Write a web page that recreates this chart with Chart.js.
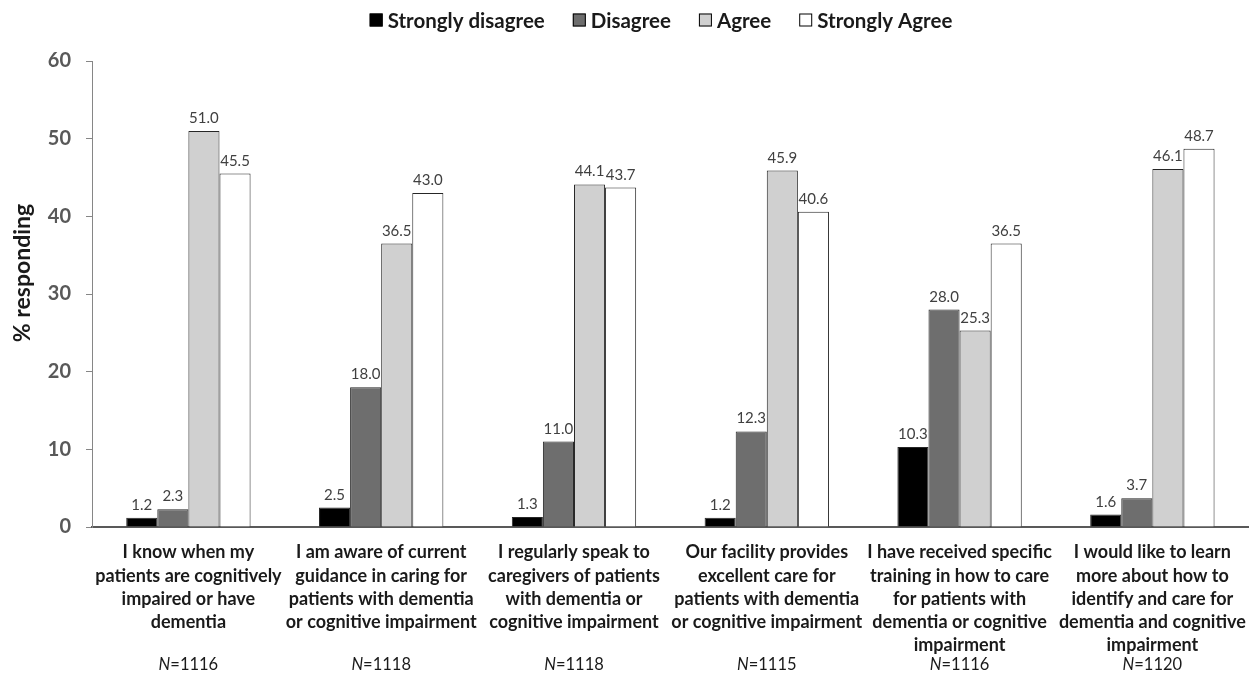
<!DOCTYPE html>
<html>
<head>
<meta charset="utf-8">
<script src="https://cdn.jsdelivr.net/npm/chart.js@4"></script>
<style>
  html, body { margin: 0; padding: 0; background: #ffffff; }
  #wrap { width: 1260px; height: 679px; position: relative; }
</style>
</head>
<body>
<div id="wrap"><canvas id="chart"></canvas></div>
<script>
// Survey statements (wrapped into lines) and respondent counts
const categories = [
  ["I know when my", "patients are cognitively", "impaired or have", "dementia"],
  ["I am aware of current", "guidance in caring for", "patients with dementia", "or cognitive impairment"],
  ["I regularly speak to", "caregivers of patients", "with dementia or", "cognitive impairment"],
  ["Our facility provides", "excellent care for", "patients with dementia", "or cognitive impairment"],
  ["I have received specific", "training in how to care", "for patients with", "dementia or cognitive", "impairment"],
  ["I would like to learn", "more about how to", "identify and care for", "dementia and cognitive", "impairment"]
];
const sampleSizes = [1116, 1118, 1118, 1115, 1116, 1120];

// % responding per answer
const stronglyDisagree = [1.2, 2.5, 1.3, 1.2, 10.3, 1.6];
const disagree         = [2.3, 18.0, 11.0, 12.3, 28.0, 3.7];
const agree            = [51.0, 36.5, 44.1, 45.9, 25.3, 46.1];
const stronglyAgree    = [45.5, 43.0, 43.7, 40.6, 36.5, 48.7];

const yTicks = [0, 10, 20, 30, 40, 50, 60];

const FONT = "Lato, 'Open Sans', sans-serif";

// Value labels above each bar
const valueLabels = {
  id: 'valueLabels',
  afterDatasetsDraw(chart) {
    const ctx = chart.ctx;
    ctx.save();
    ctx.font = "15px " + FONT;
    ctx.fillStyle = '#404040';
    ctx.textAlign = 'center';
    ctx.textBaseline = 'alphabetic';
    chart.data.datasets.forEach((ds, i) => {
      chart.getDatasetMeta(i).data.forEach((bar, j) => {
        ctx.fillText(ds.data[j].toFixed(1), bar.x, bar.y - 8);
      });
    });
    ctx.restore();
  }
};

// "N=…" line under each category, y-axis title and legend row
const annotations = {
  id: 'annotations',
  afterDraw(chart) {
    const ctx = chart.ctx;
    const xs = chart.scales.x;
    ctx.save();

    // sample sizes
    ctx.fillStyle = '#1a1a1a';
    ctx.textBaseline = 'middle';
    ctx.textAlign = 'left';
    const italic = "italic 16.5px " + FONT;
    const regular = "16.5px " + FONT;
    sampleSizes.forEach((n, i) => {
      const cx = xs.getPixelForValue(i);
      ctx.font = italic;
      const w1 = ctx.measureText('N').width;
      ctx.font = regular;
      const rest = '=' + n;
      const w2 = ctx.measureText(rest).width;
      const x0 = cx - (w1 + w2) / 2;
      ctx.font = italic;
      ctx.fillText('N', x0, 665);
      ctx.font = regular;
      ctx.fillText(rest, x0 + w1, 665);
    });

    // y-axis title
    ctx.save();
    ctx.translate(23, 273);
    ctx.rotate(-Math.PI / 2);
    ctx.textAlign = 'center';
    ctx.textBaseline = 'middle';
    ctx.font = "bold 23px " + FONT;
    ctx.fillStyle = '#1a1a1a';
    ctx.fillText('% responding', 0, 0);
    ctx.restore();

    // legend
    const box = 13, gapText = 5, gapItem = 28, ly = 20;
    ctx.font = "bold 20.5px " + FONT;
    ctx.textBaseline = 'middle';
    ctx.textAlign = 'left';
    const items = chart.data.datasets.map(ds => ({
      text: ds.label, fill: ds.backgroundColor, w: ctx.measureText(ds.label).width
    }));
    const total = items.reduce((s, it) => s + box + gapText + it.w, 0) + gapItem * (items.length - 1);
    let x = 661 - total / 2;
    items.forEach(it => {
      ctx.fillStyle = it.fill;
      ctx.fillRect(x, ly - box / 2, box, box);
      ctx.strokeStyle = '#000000';
      ctx.lineWidth = 1;
      ctx.strokeRect(x + 0.5, ly - box / 2 + 0.5, box - 1, box - 1);
      ctx.fillStyle = '#1a1a1a';
      ctx.fillText(it.text, x + box + gapText, ly + 1);
      x += box + gapText + it.w + gapItem;
    });

    ctx.restore();
  }
};

const barBase = { borderColor: '#262626', borderWidth: 1, categoryPercentage: 0.645, barPercentage: 1.0 };

new Chart(document.getElementById('chart'), {
  type: 'bar',
  data: {
    labels: categories,
    datasets: [
      Object.assign({ label: 'Strongly disagree', data: stronglyDisagree, backgroundColor: '#000000' }, barBase),
      Object.assign({ label: 'Disagree', data: disagree, backgroundColor: '#6e6e6e' }, barBase),
      Object.assign({ label: 'Agree', data: agree, backgroundColor: '#d0d0d0' }, barBase),
      Object.assign({ label: 'Strongly Agree', data: stronglyAgree, backgroundColor: '#ffffff' }, barBase)
    ]
  },
  options: {
    responsive: true,
    maintainAspectRatio: false,
    animation: false,
    layout: { padding: { left: 0, right: 2, top: 61, bottom: 0 } },
    plugins: {
      legend: { display: false },
      tooltip: { enabled: false }
    },
    scales: {
      x: {
        grid: { display: false, drawTicks: false },
        border: { color: '#595959', width: 2 },
        ticks: {
          color: '#1a1a1a',
          padding: 14,
          maxRotation: 0,
          autoSkip: false,
          font: { family: FONT, size: 18, weight: 'bold', lineHeight: 1.29 }
        },
        afterFit(scale) { scale.height = 152; }
      },
      y: {
        min: 0,
        max: 60,
        afterBuildTicks(scale) { scale.ticks = yTicks.map(v => ({ value: v })); },
        grid: { drawOnChartArea: false, drawTicks: true, tickLength: 6, color: '#868686' },
        border: { color: '#868686', width: 1 },
        ticks: {
          color: '#595959',
          padding: 15,
          font: { family: FONT, size: 20, weight: 'bold' }
        },
        afterFit(scale) { scale.width = 92; }
      }
    }
  },
  plugins: [valueLabels, annotations]
});
</script>
</body>
</html>
